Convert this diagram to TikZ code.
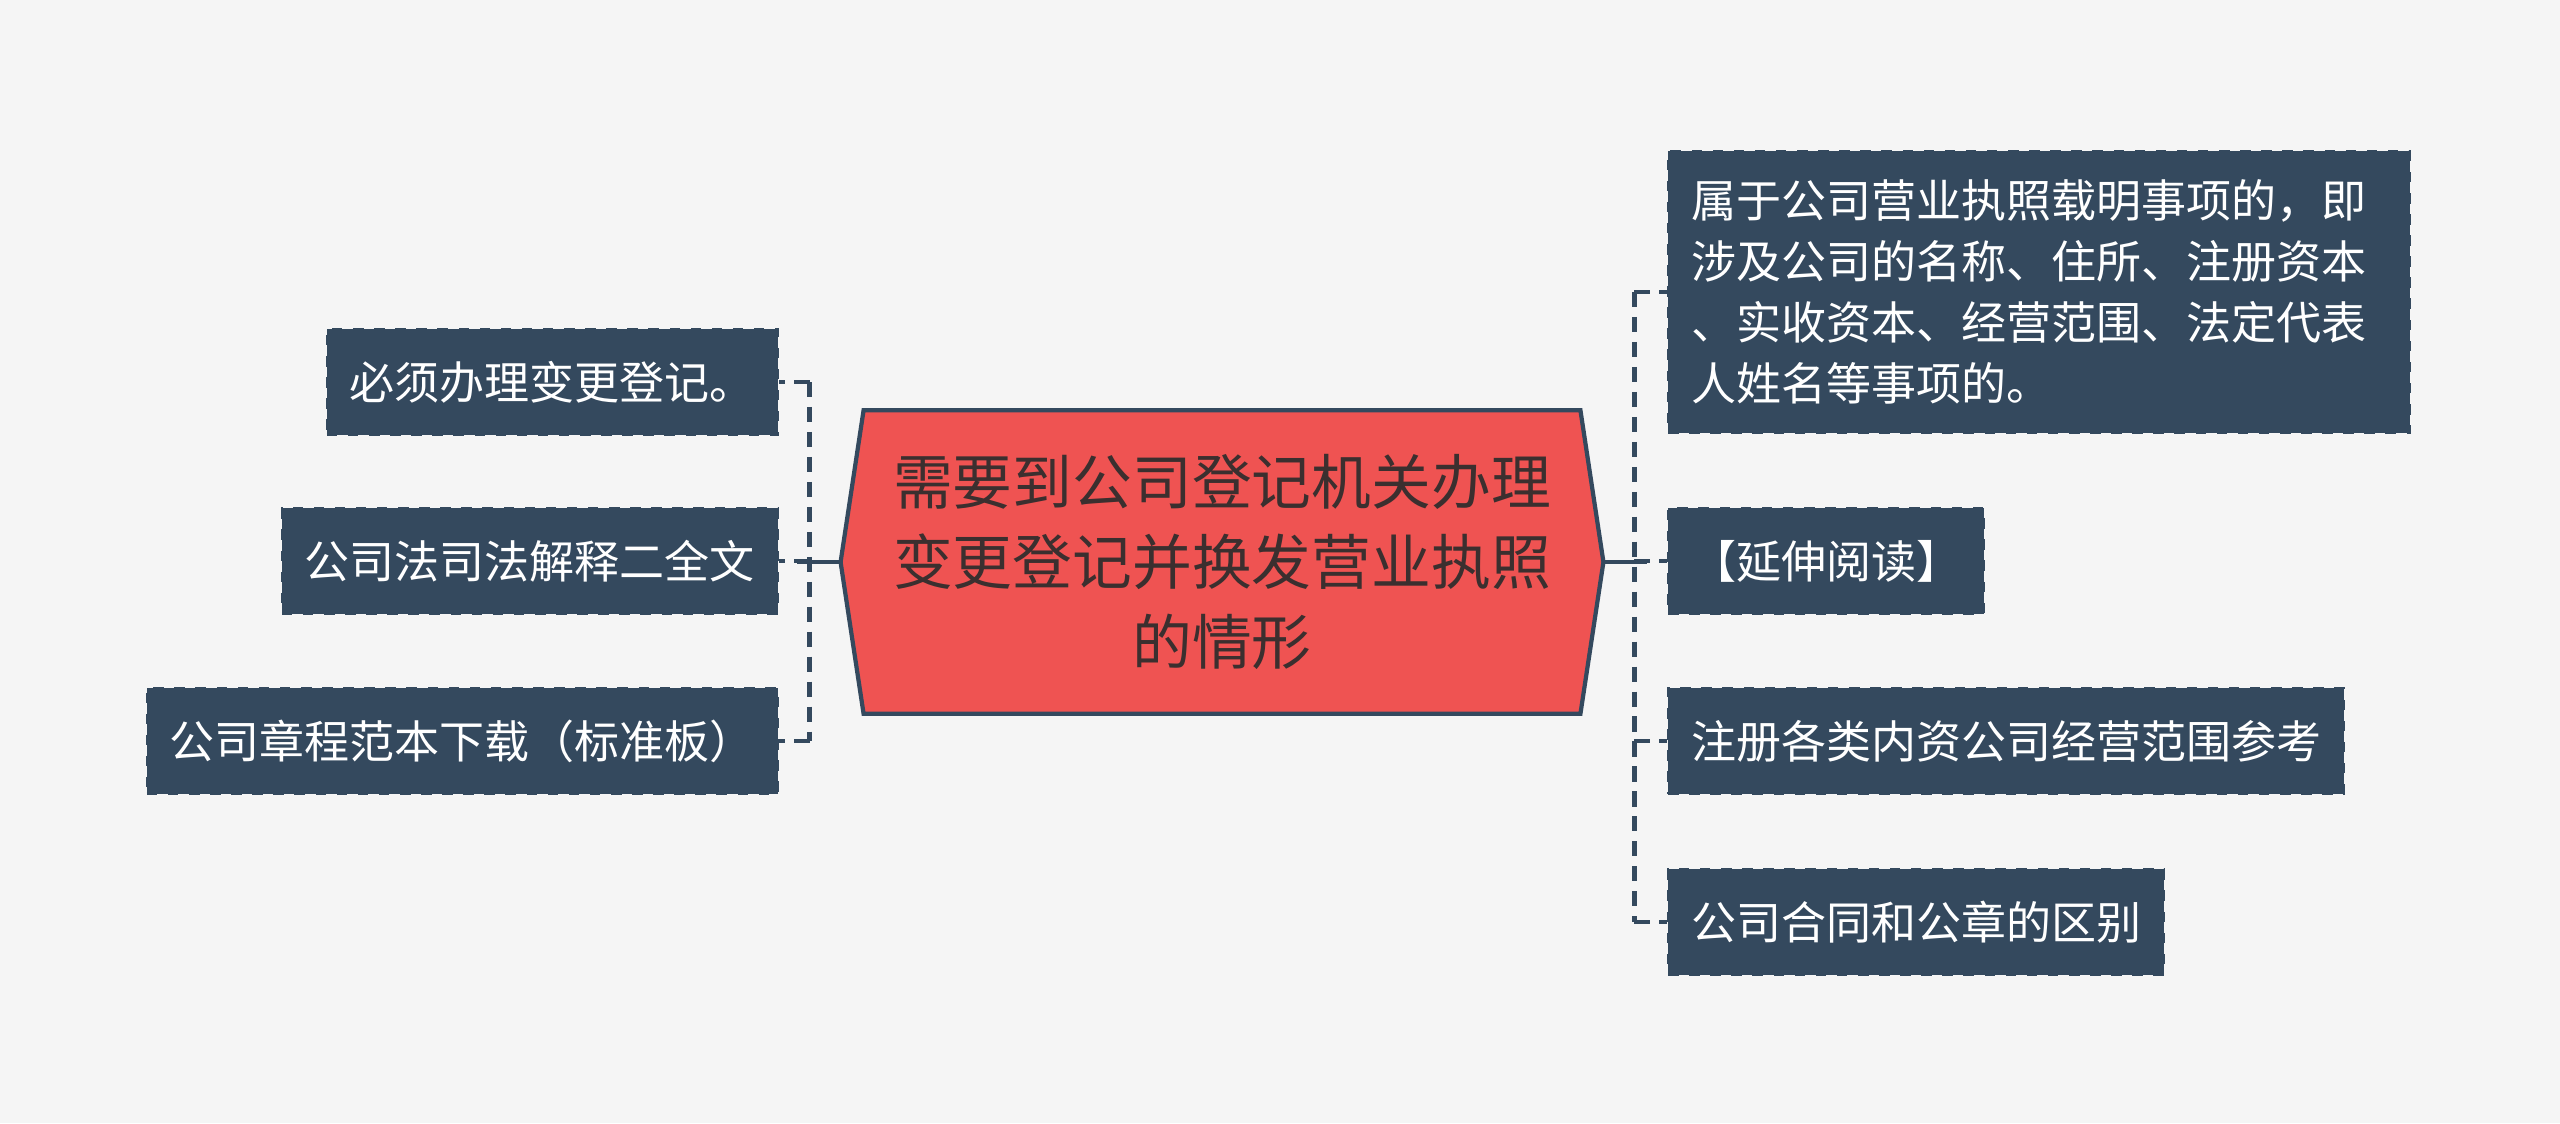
\documentclass[tikz,border=0pt]{standalone}
\usepackage{fontspec}
\setmainfont{Noto Sans CJK SC}
\usetikzlibrary{backgrounds}
\definecolor{slate}{HTML}{34495E}
\definecolor{coral}{HTML}{EF5352}
\definecolor{paper}{HTML}{F5F5F5}
\definecolor{ink}{HTML}{3B2F2F}
\begin{document}
\begin{tikzpicture}[x=0.01cm,y=-0.01cm,
  leaf/.style={fill=slate,draw=slate,dashed,line width=0.6pt,text=white,
    inner xsep=0.23cm,inner ysep=0.28cm,minimum height=1.05cm,
    font=\fontsize{12.8}{17.4}\selectfont},
  topic/.style={text=ink,align=center,minimum width=7.61cm,minimum height=3.02cm,
    font=\fontsize{17}{22.8}\selectfont},
  trunk/.style={draw=slate,line width=1.4pt},
  twig/.style={draw=slate,line width=1.4pt,dash pattern=on 4.3pt off 2.8pt}]
% central topic
\node[topic] (root) at (1222,562) {需要到公司登记机关办理\\变更登记并换发营业执照\\的情形};
\begin{pgfonlayer}{background}
\fill[paper] (0,0) rectangle (2560,1123);
\draw[fill=coral,draw=slate,line width=1.2pt,line join=miter]
  (root.west) -- ([xshift=0.23cm]root.north west) -- ([xshift=-0.23cm]root.north east)
  -- (root.east) -- ([xshift=-0.23cm]root.south east) -- ([xshift=0.23cm]root.south west) -- cycle;
\end{pgfonlayer}
% left branch
\node[leaf,anchor=east] (l1) at (779,382) {必须办理变更登记。};
\node[leaf,anchor=east] (l2) at (779,561) {公司法司法解释二全文};
\node[leaf,anchor=east] (l3) at (779,741) {公司章程范本下载（标准板）};
\coordinate (lb) at ([xshift=-0.31cm]root.west);
\draw[trunk] (root.west) -- ([xshift=-0.13cm]lb);
\draw[twig] (lb |- l1.east) -- (lb |- l3.east);
\foreach \n in {l1,l2,l3}
  \draw[twig] (lb |- \n.east) -- (\n.east);
% right branch
\node[leaf,anchor=west,text width=6.95cm,align=left] (r1) at (1667,292)
  {属于公司营业执照载明事项的，即\\涉及公司的名称、住所、注册资本\\、实收资本、经营范围、法定代表\\人姓名等事项的。};
\node[leaf,anchor=west] (r2) at (1667,561) {【延伸阅读】};
\node[leaf,anchor=west] (r3) at (1667,741) {注册各类内资公司经营范围参考};
\node[leaf,anchor=west] (r4) at (1667,922) {公司合同和公章的区别};
\coordinate (rb) at ([xshift=0.31cm]root.east);
\draw[trunk] (root.east) -- ([xshift=0.13cm]rb);
\draw[twig] (rb |- r1.west) -- (rb |- r4.west);
\foreach \n in {r1,r2,r3,r4}
  \draw[twig] (rb |- \n.west) -- (\n.west);
\end{tikzpicture}
\end{document}
